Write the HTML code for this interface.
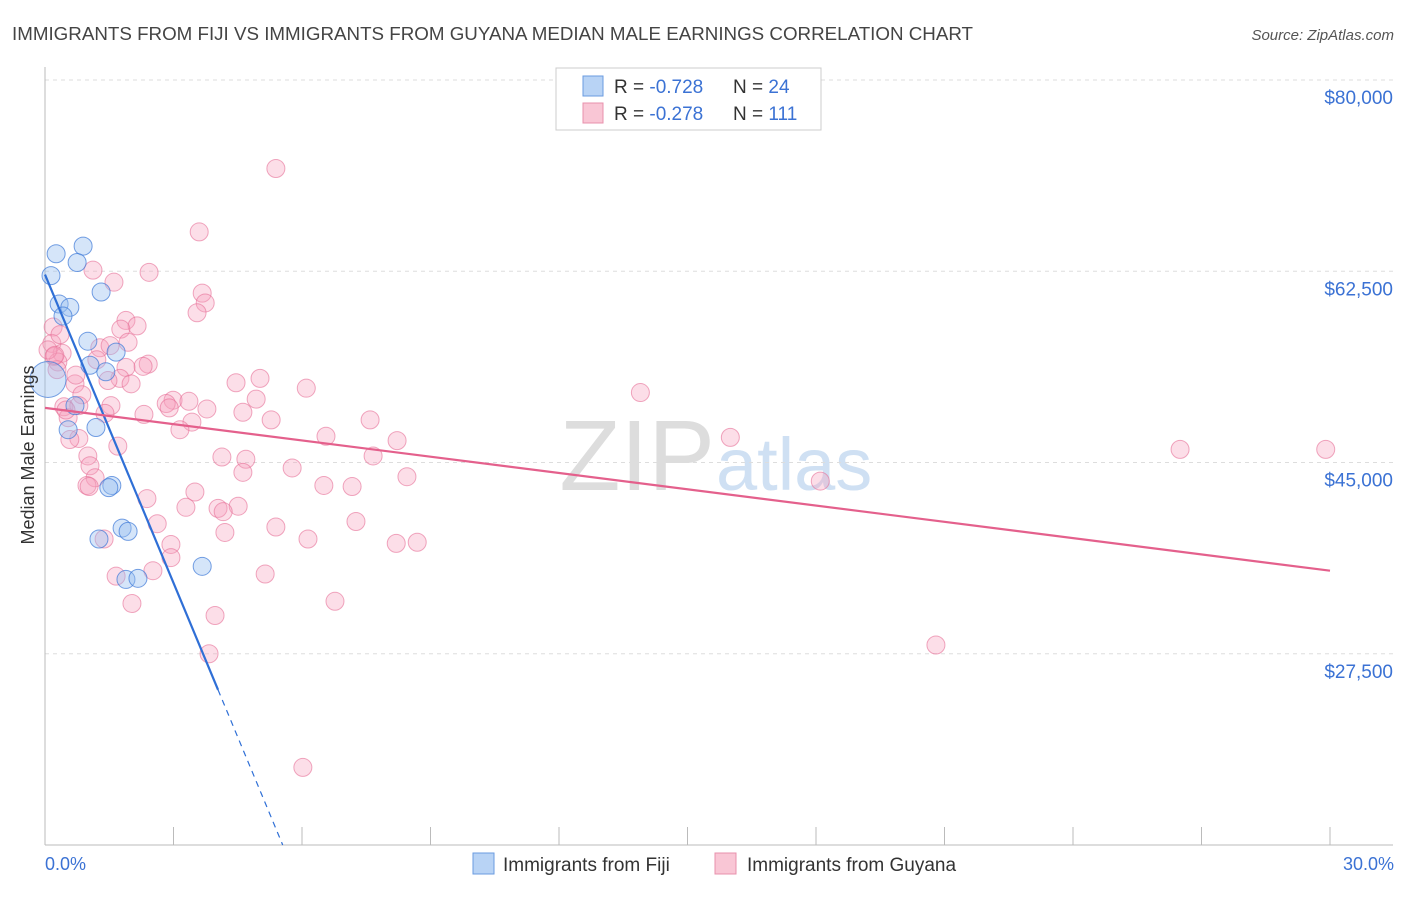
<!DOCTYPE html>
<html><head><meta charset="utf-8"><style>
body{margin:0;background:#fff;font-family:"Liberation Sans",sans-serif;}
svg text{font-family:"Liberation Sans",sans-serif;}
</style></head><body>
<svg id="chart" width="1406" height="892">
<text x="12" y="40" font-size="18.5" fill="#444" textLength="961" lengthAdjust="spacingAndGlyphs">IMMIGRANTS FROM FIJI VS IMMIGRANTS FROM GUYANA MEDIAN MALE EARNINGS CORRELATION CHART</text>
<text x="1394" y="40" font-size="15" fill="#555" font-style="italic" text-anchor="end">Source: ZipAtlas.com</text>
<text x="715" y="490" font-size="100" fill="#ddd" text-anchor="end" font-family="Liberation Serif">ZIP</text>
<text x="716" y="490" font-size="74" fill="#cfe0f3">atlas</text>
<g id="grid"></g>
<g id="axes"></g>
<g id="pts"></g>
<g id="lines"></g>
<text transform="translate(34,455) rotate(-90)" font-size="18" fill="#333" text-anchor="middle">Median Male Earnings</text>
<text x="45" y="870" font-size="18" fill="#3b72d4">0.0%</text>
<text x="1394" y="870" font-size="18" fill="#3b72d4" text-anchor="end">30.0%</text>
<g>
<rect x="556" y="68" width="265" height="62" fill="#fff" stroke="#ccc"/>
<rect x="583" y="76" width="20" height="20" fill="#b8d3f5" stroke="#6a9be0"/>
<rect x="583" y="103" width="20" height="20" fill="#f9c6d5" stroke="#e890ac"/>
<text x="614" y="93" font-size="19" fill="#333">R = <tspan fill="#3b72d4">-0.728</tspan><tspan x="733">N = </tspan><tspan fill="#3b72d4">24</tspan></text>
<text x="614" y="120" font-size="19" fill="#333">R = <tspan fill="#3b72d4">-0.278</tspan><tspan x="733">N = </tspan><tspan fill="#3b72d4">111</tspan></text>
</g>
<g><rect x="473" y="853" width="21" height="21" fill="#b8d3f5" stroke="#6a9be0"/><text x="503" y="871" font-size="19" fill="#333">Immigrants from Fiji</text></g>
<g><rect x="715" y="853" width="21" height="21" fill="#f9c6d5" stroke="#e890ac"/><text x="747" y="871" font-size="19" fill="#333">Immigrants from Guyana</text></g>
</svg>
<script>
const yTicks=[80000,62500,45000,27500];
const yTickLabels=["$80,000","$62,500","$45,000","$27,500"];
const xTicks=[0,3,6,9,12,15,18,21,24,27,30];
const fijiX=[0.26,0.89,0.14,0.75,1.31,0.33,0.58,0.42,1.00,1.66,1.05,1.42,0.70,1.19,0.54,1.56,1.49,1.80,1.94,1.26,1.89,2.17,3.67,0.07];
const fijiY=[64.1,64.8,62.1,63.3,60.6,59.5,59.2,58.4,56.1,55.1,53.9,53.3,50.2,48.2,48.0,42.9,42.7,39.0,38.7,38.0,34.3,34.4,35.5,52.6];
const guyX=[5.39,3.60,1.12,2.43,1.61,3.67,3.74,3.55,1.89,2.15,1.77,0.19,0.16,1.94,1.28,0.40,0.21,0.30,2.41,2.29,1.21,1.89,5.02,1.75,1.47,2.01,4.46,6.10,0.70,0.28,13.9,0.86,4.93,2.99,3.36,2.83,2.90,3.78,1.54,0.44,0.79,4.62,1.40,2.31,5.28,7.59,0.54,3.43,3.15,6.56,16.0,8.22,1.70,26.5,29.9,0.79,0.58,4.13,4.69,7.66,1.00,5.77,1.05,4.62,8.45,1.17,0.98,6.51,7.17,18.1,1.03,3.50,2.38,4.51,3.29,4.04,4.16,2.62,7.26,5.39,4.20,6.14,8.20,8.69,1.38,2.94,2.94,1.66,2.52,5.14,2.03,6.77,3.97,20.8,3.83,6.02,0.49,0.35,1.52,0.72,0.07,0.23];
const guyY=[71.9,66.1,62.6,62.4,61.5,60.5,59.6,58.7,58.0,57.5,57.2,57.4,55.9,56.0,55.5,55.0,54.7,54.2,54.0,53.8,54.4,53.7,52.7,52.7,52.5,52.2,52.3,51.8,52.2,53.5,51.4,51.2,50.8,50.7,50.6,50.4,50.0,49.9,50.2,50.1,50.2,49.6,49.5,49.4,48.9,48.9,49.1,48.7,48.0,47.4,47.3,47.0,46.5,46.2,46.2,47.2,47.1,45.5,45.3,45.6,45.6,44.5,44.7,44.1,43.7,43.6,42.9,42.9,42.8,43.3,42.8,42.3,41.7,41.0,40.9,40.8,40.5,39.4,39.6,39.1,38.6,38.0,37.6,37.7,38.0,37.5,36.3,34.6,35.1,34.8,32.1,32.3,31.0,28.3,27.5,17.1,49.8,56.7,55.7,53.0,55.3,54.8];
const fijiTrend=[[0,62.2],[4.04,24.2],[5.55,10.0]];
const guyTrend=[[0,50.0],[30,35.1]];
const NS="http://www.w3.org/2000/svg";
const X=v=>45+v*(1285/30);
const Y=v=>80+(80000-v)*(765/70000);
function mk(t,a,p){const e=document.createElementNS(NS,t);for(const k in a)e.setAttribute(k,a[k]);document.getElementById(p).appendChild(e);return e;}
yTicks.forEach((t,i)=>{
 const l=mk('line',{x1:45,x2:1393,y1:Y(t),y2:Y(t),stroke:'#ddd','stroke-dasharray':'4,4'},'grid');
 
 
 const tx=mk('text',{x:1393,y:Y(t)+24,'font-size':19,fill:'#3b72d4','text-anchor':'end'},'grid');
 tx.textContent=yTickLabels[i];
 
 
});
let a=mk('line',{x1:45,x2:45,y1:67,y2:845,stroke:'#bbb'},'axes');


a=mk('line',{x1:45,x2:1393,y1:845,y2:845,stroke:'#bbb'},'axes');


xTicks.forEach(t=>{
 const l=mk('line',{x1:X(t),x2:X(t),y1:827,y2:845,stroke:'#bbb'},'axes');
 
 
});
guyX.forEach((x,i)=>{
 const c=mk('circle',{cx:X(x),cy:Y(guyY[i]*1000),r:9,fill:'rgba(245,160,190,0.35)',stroke:'rgba(230,110,150,0.6)','stroke-width':1},'pts');
 
 
});
fijiX.forEach((x,i)=>{
 const c=mk('circle',{cx:X(x),cy:Y(fijiY[i]*1000),r:i==23?18:9,fill:'rgba(150,190,240,0.4)',stroke:'rgba(60,120,215,0.7)','stroke-width':1},'pts');
 
 
});
let t=mk('line',{x1:X(fijiTrend[0][0]),y1:Y(fijiTrend[0][1]*1000),x2:X(fijiTrend[1][0]),y2:Y(fijiTrend[1][1]*1000),stroke:'#2f6fd6','stroke-width':2.2},'lines');


t=mk('line',{x1:X(fijiTrend[1][0]),y1:Y(fijiTrend[1][1]*1000),x2:X(fijiTrend[2][0]),y2:Y(fijiTrend[2][1]*1000),stroke:'#2f6fd6','stroke-width':1.2,'stroke-dasharray':'6,5'},'lines');


t=mk('line',{x1:X(guyTrend[0][0]),y1:Y(guyTrend[0][1]*1000),x2:X(guyTrend[1][0]),y2:Y(guyTrend[1][1]*1000),stroke:'#e4608c','stroke-width':2.2},'lines');


</script>
</body></html>
